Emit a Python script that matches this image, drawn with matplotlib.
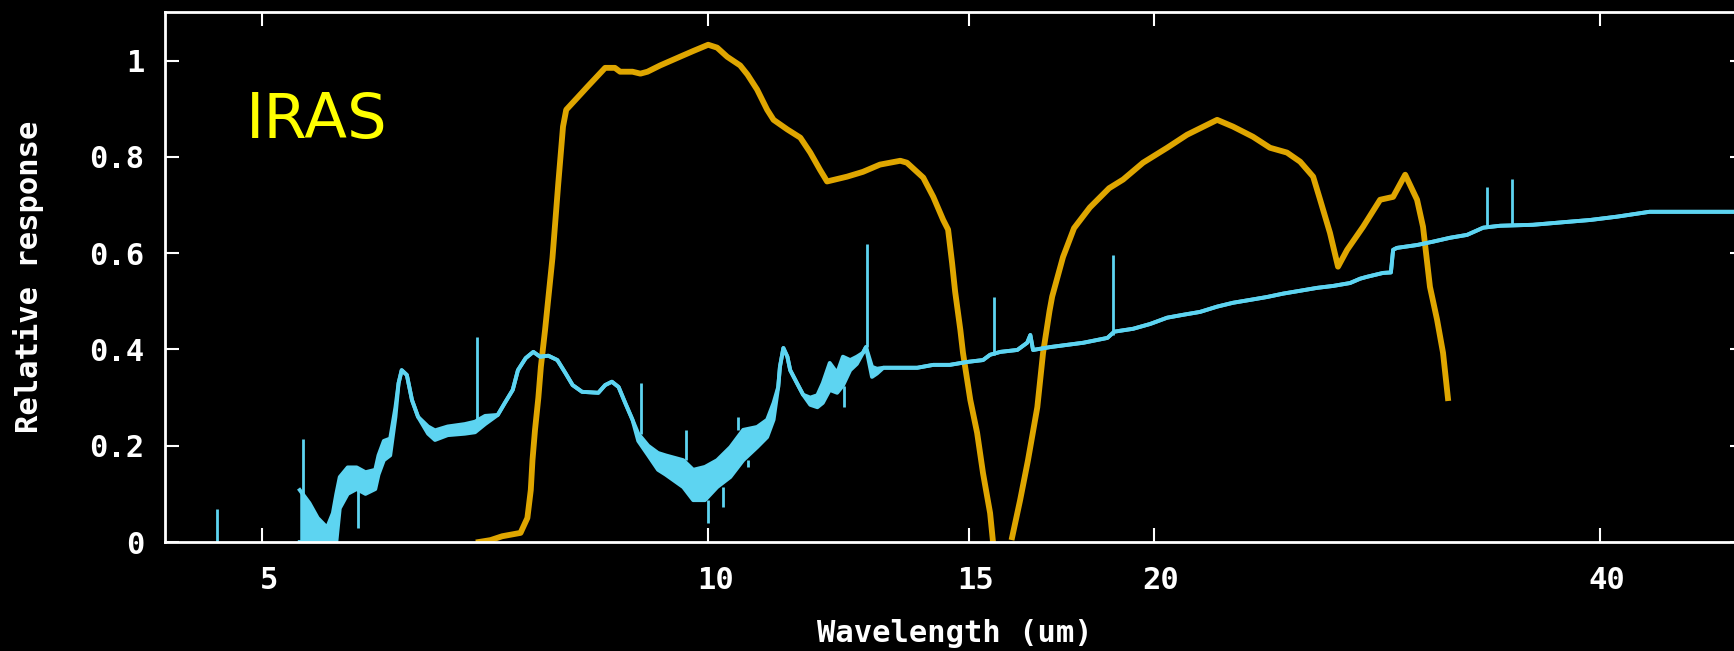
import numpy as np
import matplotlib
matplotlib.use("Agg")
from matplotlib import pyplot as plt
from matplotlib.ticker import NullLocator
from matplotlib.transforms import ScaledTranslation

nan = np.nan

# IRAS band response (orange), the NaN breaks the line where it dips under 0
iras_wl = [7.00, 7.13, 7.26, 7.47, 7.55, 7.59, 7.61, 7.64, 7.68, 7.71, 7.76, 7.85, 7.92, 7.98,
           8.02, 8.16, 8.29, 8.52, 8.65, 8.72, 8.89, 9.00, 9.10, 9.28, 9.57, 9.77, 10.00, 10.14,
           10.30, 10.51, 10.63, 10.79, 10.96, 11.07, 11.31, 11.54, 11.72, 11.90, 12.03, 12.41,
           12.72, 13.06, 13.48, 13.62, 13.97, 14.19, 14.41, 14.52, 14.61, 14.68, 14.80, 14.86,
           15.03, 15.19, 15.33, 15.50, 15.57, nan, 16.04, 16.24, 16.44, 16.68, 16.83, 17.00,
           17.07, 17.36, 17.66, 18.10, 18.65, 19.06, 19.66, 20.41, 21.05, 22.06, 22.61, 23.32,
           23.95, 24.59, 25.10, 25.61, 25.89, 26.29, 26.62, 27.00, 27.68, 28.42, 29.00, 29.55,
           30.10, 30.38, 30.71, 31.05, 31.34, 31.58]
iras_resp = [0.0, 0.004, 0.012, 0.019, 0.05, 0.108, 0.17, 0.233, 0.30, 0.364, 0.44, 0.59, 0.742,
             0.863, 0.898, 0.923, 0.946, 0.985, 0.985, 0.977, 0.977, 0.973, 0.977, 0.99, 1.008,
             1.02, 1.033, 1.027, 1.008, 0.99, 0.971, 0.94, 0.898, 0.877, 0.857, 0.84, 0.809,
             0.773, 0.749, 0.759, 0.769, 0.784, 0.792, 0.788, 0.757, 0.717, 0.669, 0.649, 0.58,
             0.52, 0.44, 0.393, 0.295, 0.227, 0.143, 0.06, 0.0, nan, 0.01, 0.087, 0.17, 0.28,
             0.393, 0.48, 0.51, 0.592, 0.652, 0.695, 0.735, 0.753, 0.788, 0.819, 0.846, 0.877,
             0.863, 0.842, 0.819, 0.809, 0.79, 0.759, 0.711, 0.642, 0.572, 0.607, 0.655, 0.711,
             0.717, 0.763, 0.711, 0.655, 0.53, 0.462, 0.393, 0.299]

# spectrum (cyan): wavelength, low and high edge of the noisy trace
spec_wl = [5.30, 5.38, 5.45, 5.53, 5.58, 5.61, 5.64, 5.71, 5.79, 5.87, 5.96, 5.99, 6.04, 6.10,
           6.15, 6.18, 6.21, 6.26, 6.31, 6.37, 6.47, 6.54, 6.67, 6.85, 6.96, 7.07, 7.21, 7.29,
           7.38, 7.44, 7.53, 7.62, 7.70, 7.80, 7.91, 8.01, 8.10, 8.22, 8.43, 8.52, 8.61, 8.70,
           8.79, 8.89, 8.97, 9.11, 9.25, 9.36, 9.62, 9.77, 9.95, 10.14, 10.35, 10.56, 10.79,
           10.96, 11.07, 11.15, 11.18, 11.24, 11.31, 11.36, 11.48, 11.59, 11.72, 11.85, 11.95,
           12.08, 12.22, 12.33, 12.47, 12.60, 12.72, 12.78, 12.90, 13.00, 13.13, 13.84, 14.19,
           14.56, 14.95, 15.33, 15.50, 15.75, 16.17, 16.42, 16.50, 16.57, 17.02, 17.92, 18.60,
           18.80, 19.36, 19.88, 20.41, 20.92, 21.48, 22.06, 22.61, 23.22, 23.84, 24.44, 25.10,
           25.77, 26.42, 27.12, 27.55, 27.85, 28.55, 28.90, 29.00, 29.17, 30.10, 30.86, 31.68,
           32.53, 33.36, 34.25, 36.04, 38.00, 39.40, 41.10, 43.20, 45.30, 50.00]
spec_lo = [0.0, 0.0, 0.0, 0.0, 0.0, 0.0, 0.07, 0.10, 0.11, 0.10, 0.11, 0.14, 0.17, 0.18,
           0.26, 0.33, 0.357, 0.347, 0.295, 0.26, 0.225, 0.212, 0.222, 0.225, 0.228, 0.245, 0.264,
           0.289, 0.316, 0.357, 0.382, 0.395, 0.385, 0.387, 0.378, 0.351, 0.326, 0.312, 0.31,
           0.326, 0.333, 0.322, 0.289, 0.254, 0.21, 0.18, 0.15, 0.14, 0.114, 0.087, 0.087, 0.114,
           0.135, 0.17, 0.197, 0.218, 0.254, 0.322, 0.364, 0.403, 0.385, 0.357, 0.33, 0.306,
           0.285, 0.28, 0.289, 0.316, 0.31, 0.325, 0.357, 0.37, 0.393, 0.405, 0.343, 0.35, 0.362,
           0.362, 0.368, 0.368, 0.374, 0.378, 0.389, 0.395, 0.399, 0.414, 0.43, 0.399, 0.405,
           0.414, 0.424, 0.437, 0.443, 0.453, 0.466, 0.472, 0.478, 0.489, 0.497, 0.503, 0.509,
           0.516, 0.522, 0.528, 0.532, 0.538, 0.547, 0.551, 0.559, 0.56, 0.607, 0.611, 0.617,
           0.624, 0.632, 0.638, 0.653, 0.657, 0.659, 0.665, 0.669, 0.676, 0.686, 0.686, 0.686]
spec_hi = [0.108, 0.081, 0.05, 0.03, 0.06, 0.10, 0.135, 0.155, 0.155, 0.145, 0.15, 0.18, 0.21,
           0.215, 0.28, 0.33, 0.357, 0.347, 0.295, 0.26, 0.24, 0.232, 0.24, 0.245, 0.25, 0.262,
           0.264, 0.289, 0.316, 0.357, 0.382, 0.395, 0.385, 0.387, 0.378, 0.351, 0.326, 0.312,
           0.31, 0.326, 0.333, 0.322, 0.289, 0.254, 0.225, 0.20, 0.185, 0.18, 0.17, 0.15, 0.156,
           0.17, 0.197, 0.233, 0.239, 0.254, 0.289, 0.322, 0.364, 0.403, 0.385, 0.357, 0.33,
           0.306, 0.30, 0.305, 0.33, 0.372, 0.351, 0.385, 0.378, 0.385, 0.393, 0.405, 0.364,
           0.36, 0.362, 0.362, 0.368, 0.368, 0.374, 0.378, 0.389, 0.395, 0.399, 0.414, 0.43,
           0.399, 0.405, 0.414, 0.424, 0.437, 0.443, 0.453, 0.466, 0.472, 0.478, 0.489, 0.497,
           0.503, 0.509, 0.516, 0.522, 0.528, 0.532, 0.538, 0.547, 0.551, 0.559, 0.56, 0.607,
           0.611, 0.617, 0.624, 0.632, 0.638, 0.653, 0.657, 0.659, 0.665, 0.669, 0.676, 0.686,
           0.686, 0.686]

# narrow lines in the spectrum: wavelength, base, tip
spike_wl = [4.66, 5.33, 5.80, 6.98, 9.01, 9.66, 10.00, 10.24, 10.48, 10.64, 12.35, 12.80,
            15.60, 18.77, 33.56, 34.90]
spike_base = [0.0, 0.1, 0.11, 0.25, 0.225, 0.17, 0.087, 0.114, 0.233, 0.17, 0.325, 0.405,
              0.389, 0.43, 0.653, 0.657]
spike_tip = [0.069, 0.214, 0.03, 0.426, 0.331, 0.233, 0.04, 0.073, 0.26, 0.156, 0.28, 0.62,
             0.509, 0.597, 0.738, 0.755]

xticks = [5, 10, 15, 20, 40]
yticks = [0, 0.2, 0.4, 0.6, 0.8, 1]
ytick_labels = ["0", "0.2", "0.4", "0.6", "0.8", "1"]

ORANGE = "#dfa600"
CYAN = "#5dd4f1"

plt.rcParams["font.family"] = ["DejaVu Sans Mono"]
plt.rcParams["font.weight"] = "bold"

fig = plt.figure(figsize=(17.34, 6.51), dpi=100, facecolor="black")
ax = fig.add_axes([0.0953, 0.1674, 0.9102, 0.8134])
ax.set_facecolor("black")
ax.set_xscale("log")

ax.plot(iras_wl, iras_resp, color=ORANGE, lw=4.2)
ax.fill_between(spec_wl, spec_lo, spec_hi, color=CYAN, lw=0)
ax.plot(spec_wl, spec_hi, color=CYAN, lw=2.8)
ax.plot(spec_wl, spec_lo, color=CYAN, lw=2.8)
ax.vlines(spike_wl, spike_base, spike_tip, color=CYAN, lw=2)

ax.set_xlim(4.3, 50)
ax.set_ylim(0, 1.1)
ax.set_xticks(xticks)
ax.set_xticklabels([str(t) for t in xticks])
ax.xaxis.set_minor_locator(NullLocator())
ax.set_yticks(yticks)
ax.set_yticklabels(ytick_labels)

ax.tick_params(direction="in", length=10, width=1.5, colors="white", top=True, right=True,
               labelsize=22)
ax.tick_params(axis="x", pad=17)
ax.tick_params(axis="y", pad=15)
for lab in ax.get_xticklabels():
    lab.set_transform(lab.get_transform() + ScaledTranslation(0.07, 0, fig.dpi_scale_trans))
for s in ax.spines.values():
    s.set_color("white")
    s.set_linewidth(2)

ax.set_xlabel("Wavelength (um)", color="white", fontsize=22, fontweight="bold")
ax.set_ylabel("Relative response", color="white", fontsize=22, fontweight="bold")
ax.xaxis.label.set_va("center")
ax.yaxis.label.set_va("center")
ax.xaxis.set_label_coords(0.5, -0.172)
ax.yaxis.set_label_coords(-0.0866, 0.5)

ax.text(0.0508, 0.763, "IRAS", transform=ax.transAxes, color="#ffff00", fontsize=45,
        family="DejaVu Sans", weight="normal", va="baseline", ha="left")

fig.savefig("out.png", dpi=100, facecolor="black")
